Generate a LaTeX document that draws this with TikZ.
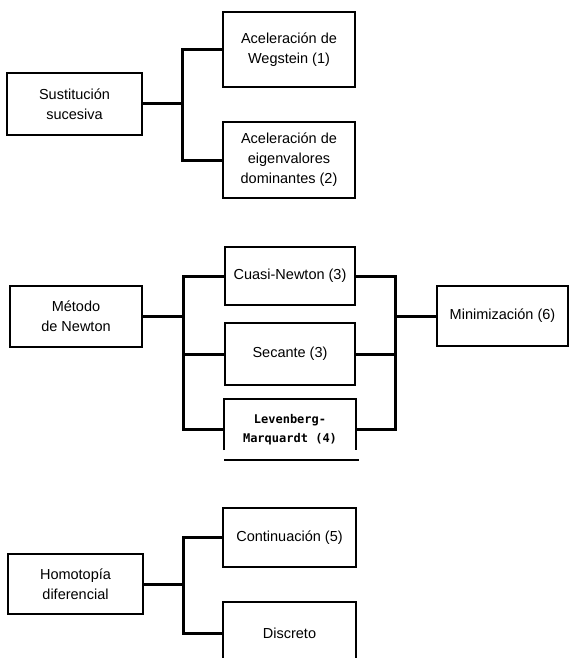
\documentclass[tikz,border=0pt]{standalone}
\usepackage{fontspec}
\setmainfont{Liberation Sans}
\newfontfamily\levfont{DejaVu Sans Mono}
\begin{document}
\begin{tikzpicture}[x=1pt,y=-1pt,
  box/.style={draw,line width=2pt,inner sep=0pt,align=center,
    font=\fontsize{14.5}{20}\selectfont},
  link/.style={line width=3pt}]
\useasboundingbox (0,0) rectangle (569,658);
% sustitucion sucesiva
\node[box,minimum width=135,minimum height=62] (sust) at (74.5,104) {Sustitución\\sucesiva};
\node[box,minimum width=132,minimum height=75] (wegs) at (289,49.5) {Aceleración de\\Wegstein (1)};
\node[box,minimum width=132,minimum height=76] (eigen) at (289,160) {Aceleración de\\eigenvalores\\dominantes (2)};
\coordinate (t1) at (182,104);
\draw[link] (sust.east) -- (t1);
\draw[link] (wegs.west) -| (t1) |- (eigen.west);
% metodo de newton
\node[box,minimum width=132,minimum height=61] (newton) at (76,316) {Método\\de Newton};
\node[box,minimum width=130,minimum height=58] (cuasi) at (290,276) {Cuasi-Newton (3)};
\node[box,minimum width=130,minimum height=62] (secante) at (290,354) {Secante (3)};
\node[box,draw=none,minimum width=130,minimum height=59,
  font=\levfont\bfseries\fontsize{12}{19}\selectfont] (leven) at (290,429.5) {Levenberg-\\Marquardt (4)};
\draw[line width=2pt] ([yshift=10pt]leven.south west) -- (leven.north west)
  -- (leven.north east) -- ([yshift=10pt]leven.south east);
\draw[line width=2pt] (leven.south west) -- ([xshift=3pt]leven.south east);
\node[box,minimum width=131,minimum height=60] (mini) at (502.5,316) {Minimización (6)};
\coordinate (t2) at (183,316);
\coordinate (t3) at (395,316);
\draw[link] (newton.east) -- (t2);
\draw[link] (cuasi.west) -| (t2) |- (leven.west);
\draw[link] (t2) |- (secante.west);
\draw[link] (cuasi.east) -| (t3) |- (leven.east);
\draw[link] (t3) |- (secante.east);
\draw[link] (t3) -- (mini.west);
% homotopia diferencial
\node[box,minimum width=135,minimum height=60] (homo) at (75.5,584) {Homotopía\\diferencial};
\node[box,minimum width=133,minimum height=59] (contin) at (289.5,537.5) {Continuación (5)};
\node[box,minimum width=133,minimum height=62] (discr) at (289.5,633) {Discreto};
\coordinate (t4) at (183,584);
\draw[link] (homo.east) -- (t4);
\draw[link] (contin.west) -| (t4) |- (discr.west);
\end{tikzpicture}
\end{document}
